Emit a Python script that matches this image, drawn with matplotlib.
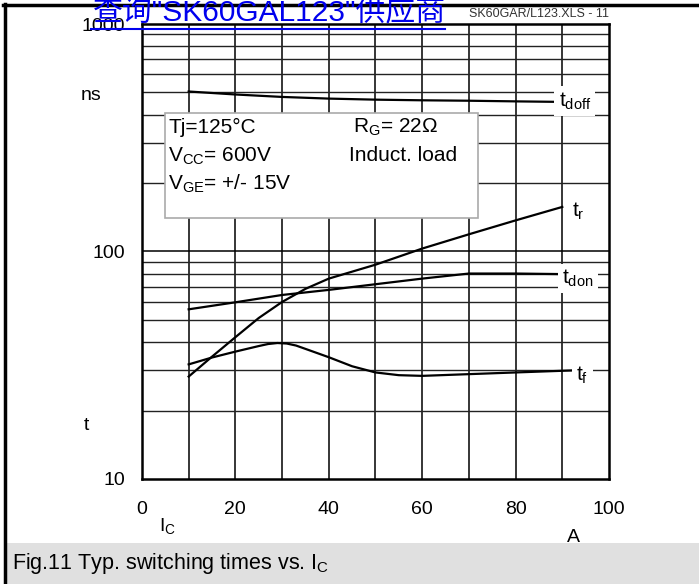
"""Typ. switching times vs. collector current (SK60GAL123, Fig.11)."""
import matplotlib
matplotlib.use('Agg')
import matplotlib.pyplot as plt
from matplotlib.lines import Line2D
from matplotlib.patches import Rectangle

plt.rcParams['font.family'] = ['Liberation Sans', 'Noto Sans CJK SC', 'DejaVu Sans']
plt.rcParams['mathtext.default'] = 'regular'

# curves (I_C in A, t in ns)
ic_doff = [10, 20, 30, 40, 50, 60, 70, 80, 88]
t_doff = [505, 490, 478, 470, 465, 462, 460, 457, 455]

ic_r = [10, 15, 20, 25, 30, 35, 40, 50, 60, 70, 80, 90]
t_r = [28.2, 34.5, 42, 51, 60, 68.5, 76, 87.5, 103, 119, 137, 157]

ic_don = [10, 20, 30, 40, 50, 60, 70, 80, 89]
t_don = [55.7, 59.8, 64.4, 67.8, 71.8, 76, 80, 80, 79.6]

ic_f = [10, 15, 20, 25, 27, 29, 31, 33, 36, 40, 45, 50, 55, 60, 70, 80, 92]
t_f = [31.9, 34.2, 36.3, 38.4, 39.2, 39.6, 39.4, 38.6, 36.7, 34.3, 31.3, 29.4, 28.6, 28.4, 28.9, 29.4, 30.0]

x_ticks = [0, 20, 40, 60, 80, 100]
y_ticks = [10, 100, 1000]

fig = plt.figure(figsize=(6.99, 5.84), dpi=100)
ax = fig.add_axes([0.2031, 0.1798, 0.6681, 0.7791])
ax.set_yscale('log')
ax.set_xlim(0, 100)
ax.set_ylim(10, 1000)

# grid like the datasheet: every 10 A, every minor decade step
for x in range(10, 100, 10):
    ax.axvline(x, color='black', lw=1.1, zorder=1)
for dec in (10, 100):
    for k in range(2, 10):
        ax.axhline(dec * k, color='#222222', lw=1.0, zorder=1)
ax.axhline(100, color='black', lw=1.1, zorder=1)

for sp in ax.spines.values():
    sp.set_linewidth(1.8)

ax.set_xticks(x_ticks)
ax.set_xticklabels([str(v) for v in x_ticks])
ax.set_yticks(y_ticks)
ax.set_yticklabels([str(v) for v in y_ticks])
ax.minorticks_off()
ax.tick_params(length=0, labelsize=14, pad=0)
ax.tick_params(axis='x', pad=16)
ax.tick_params(axis='y', pad=12)

for xs, ys in [(ic_doff, t_doff), (ic_r, t_r), (ic_don, t_don), (ic_f, t_f)]:
    ax.plot(xs, ys, color='black', lw=1.6, zorder=3, solid_joinstyle='round')

# curve labels with white backing that cuts the grid
lbl = dict(fontsize=15, va='center', ha='left', zorder=4,
           bbox=dict(facecolor='white', edgecolor='none', pad=3))
ax.text(89.2, 458, r'$t_{doff}$', **lbl)
ax.text(92.0, 150, r'$t_{r}$', **lbl)
ax.text(90.0, 76, r'$t_{don}$', **lbl)
ax.text(93.0, 28.6, r'$t_{f}$', **lbl)

# conditions box
ax.add_patch(Rectangle((0.05, 0.573), 0.669, 0.232, transform=ax.transAxes,
                       facecolor='white', edgecolor='#aaaaaa', lw=1.2, zorder=5))
box = dict(fontsize=15, va='center', ha='left', transform=ax.transAxes, zorder=6)
ax.text(0.056, 0.772, 'Tj=125°C', **box)
ax.text(0.056, 0.710, r'$V_{CC}$= 600V', **box)
ax.text(0.056, 0.648, r'$V_{GE}$= +/- 15V', **box)
ax.text(0.452, 0.772, r'$R_{G}$= 22Ω', **box)
ax.text(0.444, 0.710, 'Induct. load', **box)

# axis unit labels
fig.text(81 / 699, 1 - 96 / 584, 'ns', fontsize=14, va='center', ha='left')
fig.text(84 / 699, 1 - 425 / 584, 't', fontsize=14, va='center', ha='left')
fig.text(159 / 699, 1 - 526 / 584, r'$I_{C}$', fontsize=14, va='center', ha='left')
fig.text(567 / 699, 1 - 537 / 584, 'A', fontsize=14, va='center', ha='left')

# page furniture: frame, caption band, file tag, watermark
fig.add_artist(Line2D([3 / 699, 1], [1 - 5 / 584] * 2, color='black', lw=2.5))
fig.add_artist(Line2D([4.5 / 699] * 2, [0, 1 - 4 / 584], color='black', lw=2.5))
fig.add_artist(Rectangle((6 / 699, 0), 1, 41 / 584, facecolor='#e0e0e0',
                         edgecolor='none', transform=fig.transFigure))
fig.text(12 / 699, 1 - 563 / 584, r'Fig.11 Typ. switching times vs. $I_{C}$',
         fontsize=15.5, va='center', ha='left')
fig.text(469 / 699, 1 - 14 / 584, 'SK60GAR/L123.XLS - 11', fontsize=9,
         color='#333333', va='center', ha='left')
fig.text(93 / 699, 1 - 21 / 584, '查询"SK60GAL123"供应商', fontsize=21.5,
         color='#0000ee', va='baseline', ha='left', zorder=10)
fig.add_artist(Line2D([91 / 699, 445 / 699], [1 - 28.5 / 584] * 2,
                      color='#0000ee', lw=1.5, zorder=10))

fig.savefig('out.png', dpi=100)
plt.close(fig)
print('Wrote out.png')
